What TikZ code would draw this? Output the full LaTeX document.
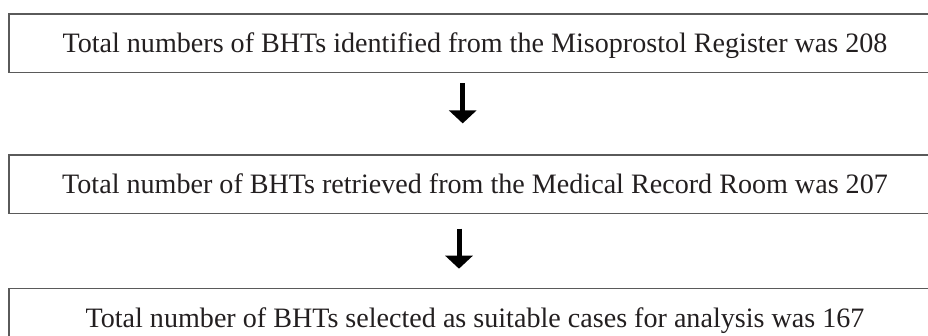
\documentclass[tikz,border=0pt]{standalone}
\usepackage{fontspec}
\setmainfont{Liberation Serif}
\usepackage{tikz}
\usetikzlibrary{arrows.meta,positioning}
\definecolor{inkx}{HTML}{231F20}
\definecolor{framex}{HTML}{5A5A5A}
\tikzset{
  stagebox/.style={draw=framex,line width=0.8pt,minimum width=466pt,minimum height=29.3pt,
    inner sep=0pt,text=inkx,font=\fontsize{14.05}{17}\selectfont,text height=9.3pt,text depth=0pt},
  dn/.style={-{Triangle[width=13.5pt,length=6.5pt]},line width=2.5pt,black}
}
\begin{document}
\begin{tikzpicture}[x=0.5pt,y=0.5pt]
\useasboundingbox (0,0) rectangle (928,336);
\node[stagebox] (reg) at (475,292.7) {Total numbers of BHTs identified from the Misoprostol Register was 208};
\node[stagebox,below=40.3pt of reg] (ret) {Total number of BHTs retrieved from the Medical Record Room was 207};
\node[stagebox,below=36.85pt of ret] (sel) {Total number of BHTs selected as suitable cases for analysis was 167};
\draw[dn] ([xshift=-6.15pt,yshift=-5pt]reg.south) -- ([xshift=-6.15pt,yshift=15.3pt]ret.north);
\draw[dn] ([xshift=-8pt,yshift=-7.2pt]ret.south) -- ([xshift=-8pt,yshift=9.6pt]sel.north);
\end{tikzpicture}
\end{document}
